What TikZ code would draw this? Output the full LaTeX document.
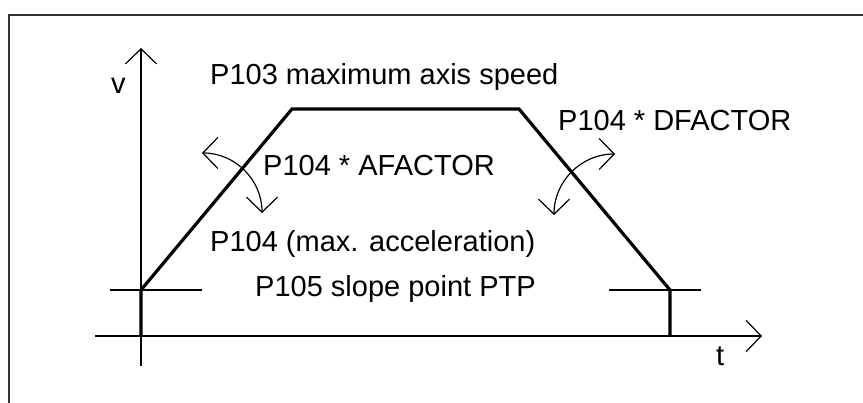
\documentclass[tikz,border=0pt]{standalone}
\usepackage{fontspec}
\setmainfont{Liberation Sans}
\usetikzlibrary{arrows.meta}

\begin{document}
\begin{tikzpicture}[
    x=1pt, y=-1pt,
    frame/.style={line width=1.2pt, draw=black!80},
    guide/.style={line width=1.2pt},
    axis/.style={guide, -{Straight Barb[length=15pt, width=31pt]}},
    turn/.style={guide, {Straight Barb[length=15pt, width=31pt]}-{Straight Barb[length=15pt, width=31pt]}},
    profile/.style={line width=3.2pt, line join=miter},
    label/.style={anchor=base west, inner sep=0pt, font=\fontsize{29}{34}\selectfont}
]
\useasboundingbox (0,0) rectangle (863,403);

% frame
\draw[frame] (863,15) -- (9,15) -- (9,403);

% axes
\coordinate (vbot) at (141,366);
\coordinate (vtop) at (141,48);
\coordinate (tleft) at (95,336);
\coordinate (tright) at (762,336);
\draw[axis] (vbot) -- (vtop);
\draw[axis] (tleft) -- (tright);
\node[label] (vlabel) at (111,94) {v};
\node[label] (tlabel) at (716,366) {t};

% speed profile
\coordinate (start) at (141,336);
\coordinate (slopeA) at (141,290);
\coordinate (topA) at (292,109);
\coordinate (topD) at (519,109);
\coordinate (slopeD) at (670,290);
\coordinate (stop) at (670,336);
\draw[profile] (start) -- (slopeA) -- (topA) -- (topD) -- (slopeD) -- (stop);

% slope point marks
\draw[guide] (110,290) -- (202,290);
\draw[guide] (609,290) -- (701,290);

% factor arrows
\draw[turn] (202,153) arc[start angle=270, end angle=360, radius=60];
\draw[turn] (554,215) arc[start angle=180, end angle=270, radius=61];

% labels
\node[label] (vmax) at (210,85) {P103 maximum axis speed};
\node[label] (accfac) at (263,176) {P104 * AFACTOR};
\node[label] (decfac) at (558,131) {P104 * DFACTOR};
\node[label] (accmax) at (210,252) {P104 (max. acceleration)};
\node[label] (slope) at (255,297) {P105 slope point PTP};
\end{tikzpicture}
\end{document}
